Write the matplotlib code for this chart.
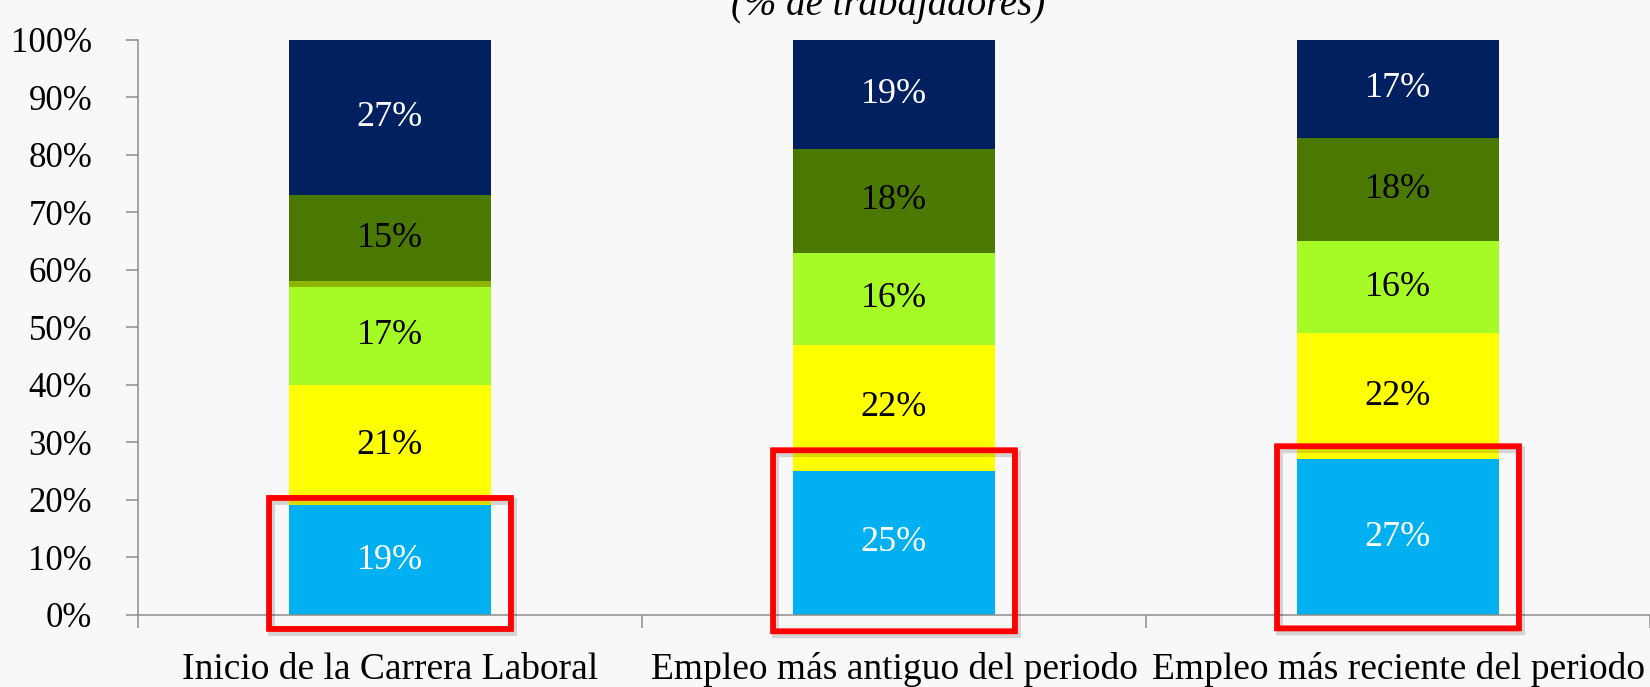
import matplotlib
matplotlib.use("Agg")
import matplotlib.pyplot as plt
from matplotlib.patches import FancyBboxPatch
import numpy as np

# -------------------------------
# Data (percent of workers)
# -------------------------------
categories = ["Inicio de la Carrera Laboral",
              "Empleo más antiguo del periodo",
              "Empleo más reciente del periodo"]
seg_blue = [19, 25, 27]
seg_yellow = [21, 22, 22]
seg_lightgreen = [17, 16, 16]
seg_olive = [1, 0, 0]
seg_darkgreen = [15, 18, 18]
seg_navy = [27, 19, 17]
y_ticks = [0, 10, 20, 30, 40, 50, 60, 70, 80, 90, 100]
title = "(% de trabajadores)"

# highlight boxes around the bottom segment (bottom, top in %)
box_bottom = [-2.5, -2.9, -2.4]
box_top = [20.3, 28.6, 29.3]

series = [
    (seg_blue, "#00B0F0", "white"),
    (seg_yellow, "#FFFF00", "black"),
    (seg_lightgreen, "#A6FB27", "black"),
    (seg_olive, "#8DB600", "black"),
    (seg_darkgreen, "#4A7800", "black"),
    (seg_navy, "#002060", "white"),
]

plt.rcParams["font.family"] = ["Liberation Serif", "DejaVu Serif"]

fig = plt.figure(figsize=(16.5, 6.87), dpi=100, facecolor="#F8F8F8")
ax = fig.add_axes([138 / 1650, 72.4 / 687, 1 - 138 / 1650, (614.6 - 40) / 687])
ax.set_facecolor("none")

x = np.arange(len(categories))
bottom = np.zeros(len(categories))
for vals, color, tcolor in series:
    vals = np.array(vals, dtype=float)
    ax.bar(x, vals, width=0.4, bottom=bottom, color=color, edgecolor="none", zorder=2)
    for xi, v, b in zip(x, vals, bottom):
        if v >= 5:
            ax.text(xi, b + v / 2, f"{v:.0f}%", ha="center", va="center",
                    fontsize=26, color=tcolor, zorder=3)
    bottom += vals

# red highlight boxes with a soft shadow
for xi, b0, b1 in zip(x, box_bottom, box_top):
    shadow = FancyBboxPatch((xi - 0.24 + 0.005, b0 - 0.6), 0.48, b1 - b0,
                            boxstyle="round,pad=0,rounding_size=0.004",
                            fill=False, edgecolor="black", alpha=0.15, linewidth=5,
                            clip_on=False, zorder=3.5)
    ax.add_patch(shadow)
    box = FancyBboxPatch((xi - 0.24, b0), 0.48, b1 - b0,
                         boxstyle="round,pad=0,rounding_size=0.004",
                         fill=False, edgecolor="#FF0000", linewidth=4.2,
                         clip_on=False, zorder=4)
    ax.add_patch(box)

ax.set_xlim(-0.5, 2.5)
ax.set_ylim(0, 100)
ax.set_yticks(y_ticks)
ax.set_yticklabels([f"{t}%" for t in y_ticks])

# category separators as major ticks, labels on minor ticks
ax.set_xticks([-0.5, 0.5, 1.5, 2.5])
ax.set_xticklabels([])
ax.set_xticks(x, minor=True)
ax.set_xticklabels(categories, minor=True)
ax.tick_params(axis="x", which="major", length=9, width=1.1, color="#8C8C8C", direction="out")
ax.tick_params(axis="x", which="minor", length=0, pad=27, labelsize=27)
ax.tick_params(axis="y", length=9, width=1.1, color="#8C8C8C", pad=24, labelsize=25)

for s in ["top", "right"]:
    ax.spines[s].set_visible(False)
for s in ["left", "bottom"]:
    ax.spines[s].set_color("#8C8C8C")
    ax.spines[s].set_linewidth(1.1)
ax.spines["left"].set_bounds(0, 100)

# title, partly cut off at the top edge
fig.text(0.538, 1 - 15 / 687, title, ha="center", va="baseline",
         fontsize=28, style="italic", color="black")

fig.savefig("out.png", dpi=100, facecolor=fig.get_facecolor())
